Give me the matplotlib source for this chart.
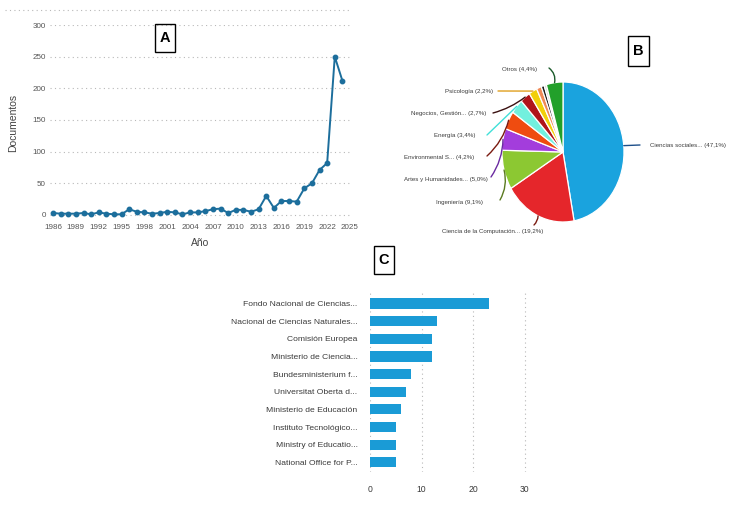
import matplotlib.pyplot as plt
from matplotlib.lines import Line2D
from matplotlib.patches import Rectangle
import numpy as np

W, H = 752, 514

# Panel A: documents per year
years = list(range(1986, 2025))
docs = [3, 2, 2, 2, 3, 1, 4, 2, 1, 1, 9, 5, 4, 2, 3, 5, 4, 1, 4, 4,
        6, 9, 10, 3, 8, 8, 5, 9, 30, 11, 22, 22, 21, 42, 50, 71, 82, 250, 212]
year_ticks = list(range(1986, 2026, 3))

# Panel B: subject areas
areas = ['Ciencias sociales... (47,1%)', 'Ciencia de la Computación... (19,2%)',
         'Ingeniería (9,1%)', 'Artes y Humanidades... (5,0%)',
         'Environmental S... (4,2%)', 'Energía (3,4%)', 'Negocios, Gestión... (2,7%)',
         'Psicología (2,2%)', '', '', '', 'Otros (4,4%)']
area_pct = [47.1, 19.2, 9.1, 5.0, 4.2, 3.4, 2.7, 2.2, 1.3, 0.8, 0.6, 4.4]
area_colors = ['#1aa3de', '#e5262b', '#8cc832', '#a33ddc', '#ef4c10', '#72f0de',
               '#b0141a', '#f2cf0a', '#f08a58', '#1e1e1e', '#d8d8d8', '#22a02a']
leader_colors = ['#1d4f8a', '#7a1a10', '#5a7a20', '#6a2aa0', '#7a1a10', '#40e0d8',
                 '#3a1010', '#e0a020', None, None, None, '#1a5a2a']

# Panel C: funding sponsors
sponsors = ['Fondo Nacional de Ciencias...', 'Nacional de Ciencias Naturales...',
            'Comisión Europea', 'Ministerio de Ciencia...', 'Bundesministerium f...',
            'Universitat Oberta d...', 'Ministerio de Educación', 'Instituto Tecnológico...',
            'Ministry of Educatio...', 'National Office for P...']
sponsor_docs = [23, 13, 12, 12, 8, 7, 6, 5, 5, 5]

plt.rcParams['font.family'] = ['Liberation Sans', 'DejaVu Sans']
txt = '#3a3a3a'
grid_kw = dict(color='#b8b8b8', linestyle=(0, (1, 3)), linewidth=0.8)


def rect(x0, y0, x1, y1):
    # pixel box (top-left origin) -> figure fraction rect
    return [x0 / W, 1 - y1 / H, (x1 - x0) / W, (y1 - y0) / H]


def tag(fig, letter, x0, y0, x1, y1):
    fig.patches.append(Rectangle((x0 / W, 1 - y1 / H), (x1 - x0) / W, (y1 - y0) / H,
                                 transform=fig.transFigure, fill=False,
                                 edgecolor='black', linewidth=1.0))
    fig.text((x0 + x1) / 2 / W, 1 - (y0 + y1) / 2 / H, letter, ha='center', va='center',
             fontsize=10.5, fontweight='bold')


fig = plt.figure(figsize=(W / 100, H / 100), dpi=100)

# ---- A ----
axA = fig.add_axes(rect(50, 25, 350, 220))
axA.plot(years, docs, color='#1c6e9c', linewidth=1.4, marker='o', markersize=3.2)
axA.set_xlim(1985.6, 2024.9)
axA.set_ylim(-8, 300)
axA.set_yticks(range(0, 301, 50))
axA.set_xticks(year_ticks)
axA.tick_params(length=0, labelsize=5.8, labelcolor='#555555', pad=3)
axA.grid(axis='y', **grid_kw)
axA.set_axisbelow(True)
for s in axA.spines.values():
    s.set_visible(False)
axA.set_ylabel('Documentos', fontsize=7.5, color='#444444', labelpad=10)
axA.set_xlabel('Año', fontsize=7.5, color='#444444', labelpad=5)
fig.lines.append(Line2D([5 / W, 350 / W], [1 - 10 / H, 1 - 10 / H],
                        transform=fig.transFigure, **grid_kw))
tag(fig, 'A', 155, 24, 175, 52)

# ---- B ----
axB = fig.add_axes(rect(502, 82, 624, 222))
wedges, _ = axB.pie(area_pct, colors=area_colors, startangle=90, counterclock=False,
                    wedgeprops=dict(edgecolor='white', linewidth=0.9))
axB.set_aspect('auto')
axB.set_xlim(-1, 1)
axB.set_ylim(-1, 1)

# label anchor (pixels, top-left origin), leader end point, alignment
label_pos = [(650, 146, 'left'), (493, 231, 'center'), (483, 203, 'right'),
             (488, 180, 'right'), (474, 158, 'right'), (476, 136, 'right'),
             (486, 114, 'right'), (493, 91, 'right'), None, None, None, (537, 69, 'right')]
leader_end = [(640, 145), (534, 225), (500, 200), (491, 177), (487, 156), (487, 135),
              (493, 113), (498, 91), None, None, None, (549, 68)]
leader_rad = [0.0, 0.2, 0.2, 0.15, 0.15, 0.0, 0.1, 0.0, 0, 0, 0, -0.3]
for w, lab, pos, end, lc, rad in zip(wedges, areas, label_pos, leader_end,
                                     leader_colors, leader_rad):
    if pos is None:
        continue
    ang = np.deg2rad((w.theta1 + w.theta2) / 2)
    axB.annotate('', xy=(np.cos(ang), np.sin(ang)), xycoords='data',
                 xytext=(end[0], H - end[1]), textcoords='figure pixels',
                 arrowprops=dict(arrowstyle='-', color=lc, linewidth=1.0,
                                 shrinkA=0, shrinkB=0,
                                 connectionstyle='arc3,rad=%s' % rad),
                 annotation_clip=False)
    fig.text(pos[0] / W, 1 - pos[1] / H, lab, ha=pos[2], va='center',
             fontsize=4.4, color=txt)
tag(fig, 'B', 628, 36, 649, 66)

# ---- C ----
axC = fig.add_axes(rect(370, 292, 530, 472))
ypos = np.arange(len(sponsors))
axC.barh(ypos, sponsor_docs, height=0.58, color='#1a9bd6')
axC.set_ylim(len(sponsors) - 0.45, -0.65)
axC.set_xlim(0, 31)
axC.set_xticks([0, 10, 20, 30])
axC.set_yticks(ypos)
axC.set_yticklabels(sponsors)
axC.tick_params(length=0, labelcolor=txt)
axC.tick_params(axis='y', pad=9, labelsize=6.1)
axC.tick_params(axis='x', pad=9, labelsize=6.2)
axC.grid(axis='x', **grid_kw)
axC.set_axisbelow(True)
for s in axC.spines.values():
    s.set_visible(False)
tag(fig, 'C', 374, 246, 394, 274)

fig.savefig('out.png', dpi=100)
